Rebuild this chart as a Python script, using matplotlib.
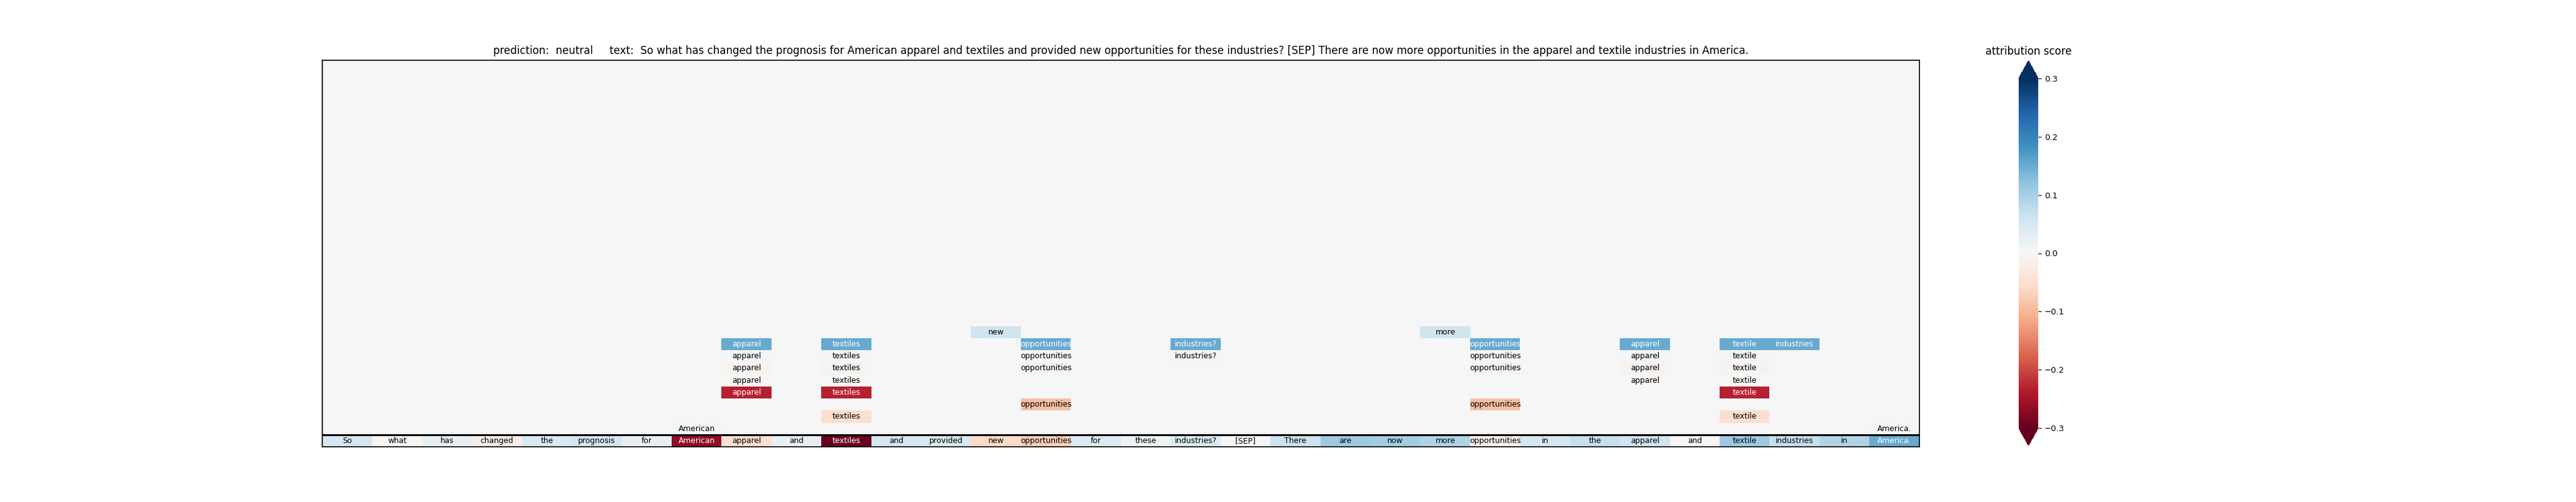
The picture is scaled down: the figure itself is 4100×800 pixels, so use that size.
import numpy as np
import matplotlib
matplotlib.use('Agg')
import matplotlib.pyplot as plt

prediction = 'neutral'
tokens = ['So', 'what', 'has', 'changed', 'the', 'prognosis', 'for', 'American',
          'apparel', 'and', 'textiles', 'and', 'provided', 'new', 'opportunities',
          'for', 'these', 'industries?', '[SEP]', 'There', 'are', 'now', 'more',
          'opportunities', 'in', 'the', 'apparel', 'and', 'textile', 'industries',
          'in', 'America.']
# attribution of each token (bottom row)
scores = [0.05, -0.005, 0.025, -0.02, 0.045, 0.055, 0.025, -0.265,
          -0.05, 0.025, -0.3, 0.05, 0.045, -0.06, -0.075,
          0.04, 0.012, 0.04, 0.0, 0.065, 0.11, 0.105, 0.09,
          -0.01, 0.05, 0.07, 0.06, -0.005, 0.11, 0.07,
          0.09, 0.15]

# stacked cells above the sentence: token column, row, score
stack_cols = [7, 31,
              8, 8, 8, 8, 8,
              10, 10, 10, 10, 10, 10,
              13,
              14, 14, 14, 14,
              17, 17,
              22,
              23, 23, 23, 23,
              26, 26, 26, 26,
              28, 28, 28, 28, 28, 28,
              29]
stack_rows = [1, 1,
              8, 7, 6, 5, 4,
              8, 7, 6, 5, 4, 2,
              9,
              8, 7, 6, 3,
              8, 7,
              9,
              8, 7, 6, 3,
              8, 7, 6, 5,
              8, 7, 6, 5, 4, 2,
              8]
stack_scores = [0.003, 0.003,
                0.15, 0.004, -0.01, 0.0, -0.23,
                0.15, 0.004, -0.01, 0.0, -0.23, -0.05,
                0.06,
                0.15, 0.0, -0.01, -0.09,
                0.15, 0.004,
                0.06,
                0.15, 0.0, -0.01, -0.09,
                0.15, 0.004, -0.01, 0.0,
                0.15, 0.004, -0.01, 0.0, -0.23, -0.05,
                0.15]

n = len(tokens)
grid = np.zeros((n, n))
labels = {}
for j, (t, s) in enumerate(zip(tokens, scores)):
    grid[0, j] = s
    labels[(0, j)] = t
for c, r, s in zip(stack_cols, stack_rows, stack_scores):
    grid[r, c] = s
    labels[(r, c)] = tokens[c]

fig = plt.figure(figsize=(41, 8), dpi=100)
ax = fig.add_axes([513 / 4100, 88 / 800, 2542 / 4100, 616 / 800])
im = ax.imshow(grid, cmap='RdBu', vmin=-0.3, vmax=0.3, origin='lower',
               extent=[0, n, 0, n], aspect='auto', interpolation='nearest')

for (r, c), txt in labels.items():
    v = grid[r, c]
    col = 'white' if abs(v) >= 0.12 else 'black'
    ax.text(c + 0.5, r + 0.5, txt, ha='center', va='center', fontsize=8.8,
            color=col)

ax.axhline(1, color='black', lw=2.2)
ax.set_xticks([])
ax.set_yticks([])
for sp in ax.spines.values():
    sp.set_linewidth(1.2)

title = 'prediction:  ' + prediction + '     text:  ' + ' '.join(tokens)
ax.set_title(title, fontsize=12, pad=7)

cax = fig.add_axes([3213 / 4100, 90 / 800, 31 / 4100, 613 / 800])
cb = fig.colorbar(im, cax=cax, extend='both')
cb.outline.set_linewidth(0)
cb.set_ticks([-0.3, -0.2, -0.1, 0.0, 0.1, 0.2, 0.3])
cb.ax.tick_params(labelsize=9.5)
cax.set_title('attribution score', fontsize=12, pad=7)

fig.savefig('out.png', dpi=100)
